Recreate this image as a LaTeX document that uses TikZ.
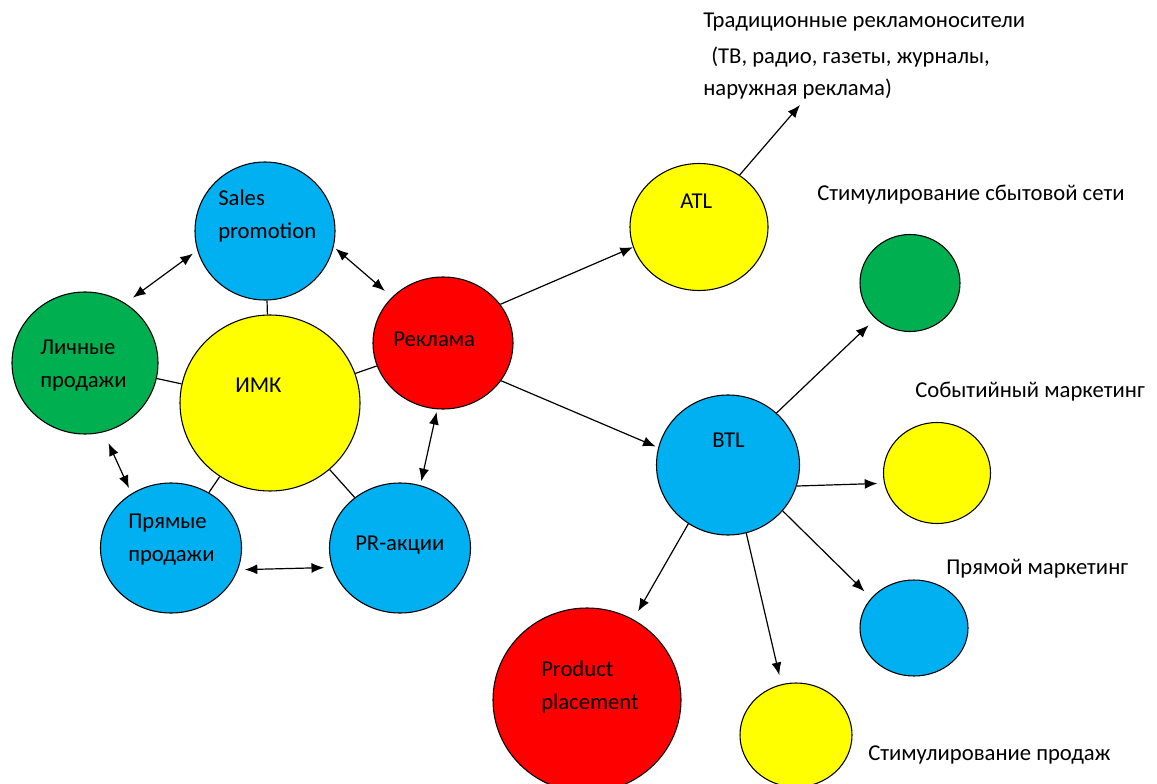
\documentclass[tikz,border=0pt]{standalone}
\usepackage{fontspec}
\setmainfont{Carlito}
\usetikzlibrary{shapes.geometric,arrows.meta}
\definecolor{msblue}{HTML}{00B0F0}
\definecolor{msgreen}{HTML}{00B050}
\definecolor{msyellow}{HTML}{FFFF00}
\definecolor{msred}{HTML}{FF0000}
\tikzset{
  bubble/.style = {ellipse, draw, line width=0.8pt, inner sep=0pt},
  txt/.style = {inner sep=0pt, anchor=west, align=left,
    font=\fontsize{17}{24.75}\selectfont},
  link/.style = {line width=0.9pt}
}
\tikzset{>={Latex[length=9.5pt,width=7.5pt]}}

\begin{document}
\begin{tikzpicture}[x=0.75pt,y=-0.75pt]
  \useasboundingbox (0,0) rectangle (1157,784);
  % bubbles round IMK
  \node[bubble,fill=msblue,minimum width=105pt,minimum height=103.5pt] (sales) at (265,231) {};
  \node[bubble,fill=msgreen,minimum width=109.5pt,minimum height=106.5pt] (lichnye) at (85,363) {};
  \node[bubble,fill=msyellow,minimum width=135pt,minimum height=132pt] (imk) at (270,403) {};
  \node[bubble,fill=msred,minimum width=105pt,minimum height=99pt] (reklama) at (443,343) {};
  \node[bubble,fill=msblue,minimum width=105.75pt,minimum height=97.5pt] (pryamye) at (171,548) {};
  \node[bubble,fill=msblue,minimum width=105.75pt,minimum height=97.5pt] (pr) at (400,548) {};
  % ATL / BTL
  \node[bubble,fill=msyellow,minimum width=103.5pt,minimum height=95.25pt] (atl) at (699,227) {};
  \node[bubble,fill=msblue,minimum width=107.25pt,minimum height=105pt] (btl) at (728,465) {};
  \node[bubble,fill=msgreen,minimum width=75pt,minimum height=72.75pt] (setb) at (910,283) {};
  \node[bubble,fill=msyellow,minimum width=80.25pt,minimum height=75.75pt] (event) at (937,473) {};
  \node[bubble,fill=msblue,minimum width=81pt,minimum height=72pt] (direct) at (914,628) {};
  \node[bubble,fill=msred,minimum width=141pt,minimum height=138pt] (product) at (587,700) {};
  \node[bubble,fill=msyellow,minimum width=84pt,minimum height=78pt] (salespr) at (796,735) {};
  % texts in bubbles
  \node[txt] (salestext) at (218,215.5) {Sales\\promotion};
  \node[txt] (lichnyetext) at (40,365.5) {Личные\\продажи};
  \node[txt] (imktext) at (235,385) {ИМК};
  \node[txt] (reklamatext) at (393,339) {Реклама};
  \node[txt] (pryamyetext) at (128,539.5) {Прямые\\продажи};
  \node[txt] (prtext) at (355,545) {PR-акции};
  \node[txt] (atltext) at (680,201) {ATL};
  \node[txt] (btltext) at (712,440) {BTL};
  \node[txt] (producttext) at (541,687) {Product\\placement};
  % labels
  \node[txt] (trad) at (703,22) {Традиционные рекламоносители};
  \node[txt] (tradb) at (711,57) {(ТВ, радио, газеты, журналы,};
  \node[txt] (tradc) at (703,89) {наружная реклама)};
  \node[txt] (setlab) at (817,195) {Стимулирование сбытовой сети};
  \node[txt] (eventlab) at (915,392) {Событийный маркетинг};
  \node[txt] (directlab) at (946,569) {Прямой маркетинг};
  \node[txt] (salesprlab) at (868,755) {Стимулирование продаж};
  \coordinate (tradend) at (800,105);
  % IMK links
  \draw[link] (imk) -- (sales);
  \draw[link] (imk) -- (lichnye);
  \draw[link] (imk) -- (reklama);
  \draw[link] (imk) -- (pryamye);
  \draw[link] (imk) -- (pr);
  % two-way arrows
  \draw[link,<->,shorten <=4pt,shorten >=7pt] (sales.196) -- (lichnye.56);
  \draw[link,<->,shorten <=2pt,shorten >=7pt] (sales.-13) -- (reklama.138);
  \draw[link,<->,shorten <=9pt,shorten >=4.5pt] (lichnye.-75) -- (pryamye.126);
  \draw[link,<->,shorten <=2pt,shorten >=3pt] (reklama.-95) -- (pr.72);
  \draw[link,<->,shorten <=5pt,shorten >=6pt] (pryamye.-18) -- (pr.196);
  % one-way arrows
  \draw[link,->] (reklama.34) -- (atl.197);
  \draw[link,->] (atl.52) -- (tradend);
  \draw[link,->,shorten >=2pt] (reklama.-33) -- (btl.166);
  \draw[link,->,shorten >=7pt] (btl.47) -- (setb.226);
  \draw[link,->,shorten >=5pt] (btl.-17) -- (event.191);
  \draw[link,->,shorten >=7pt] (btl.-40) -- (direct.145);
  \draw[link,->,shorten >=7pt] (btl.-75) -- (salespr.106);
  \draw[link,->,shorten >=7pt] (btl.236) -- (product.60);
\end{tikzpicture}
\end{document}
